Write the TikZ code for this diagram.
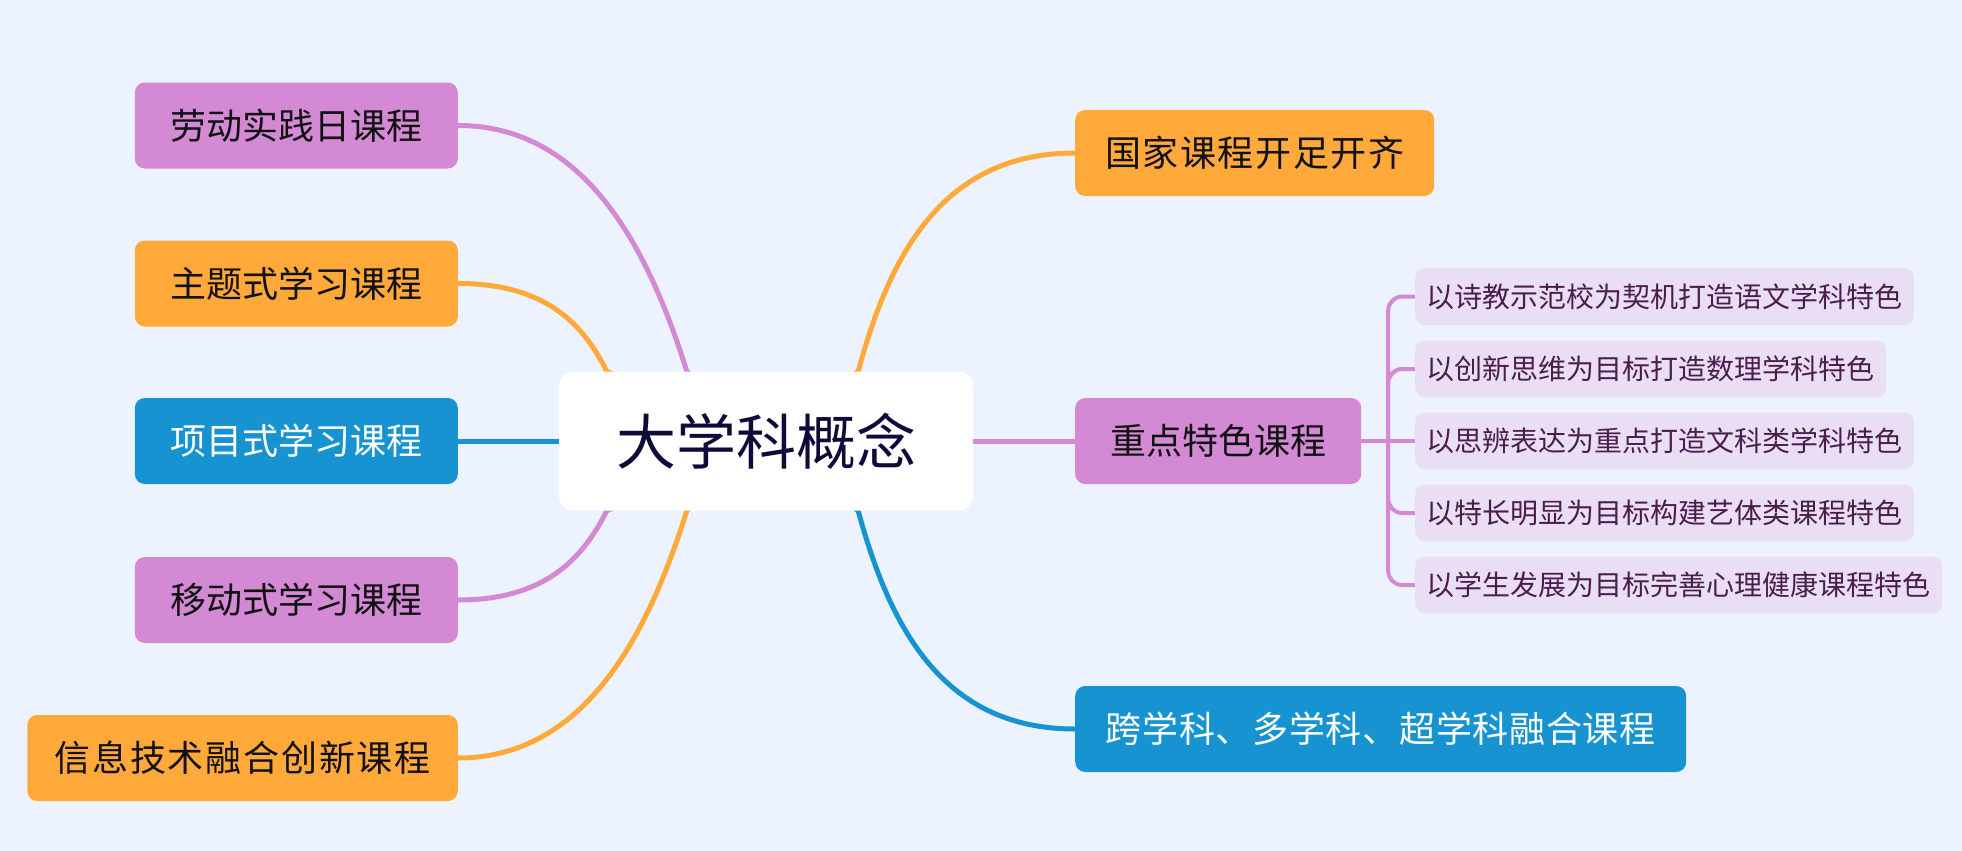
\documentclass[tikz,border=0pt]{standalone}
\usepackage{fontspec}
\setmainfont{Noto Sans CJK SC}
\usetikzlibrary{calc}
\definecolor{bgc}{RGB}{237,243,254}
\definecolor{org}{RGB}{255,169,59}
\definecolor{pur}{RGB}{212,137,213}
\definecolor{blu}{RGB}{23,147,209}
\definecolor{subf}{RGB}{234,222,244}
\definecolor{subt}{RGB}{74,30,76}
\definecolor{roott}{RGB}{14,10,58}
\definecolor{darkt}{RGB}{17,17,17}
\pgfdeclarelayer{bg}
\pgfdeclarelayer{lines}
\pgfsetlayers{bg,lines,main}
\begin{document}
\begin{tikzpicture}[x=1pt,y=-1pt,
  mainbox/.style={rounded corners=10pt, minimum height=86pt, inner xsep=0pt, inner ysep=0pt,
    font=\fontsize{36}{40}\selectfont, text=darkt},
  subbox/.style={rounded corners=10pt, minimum height=57pt, inner xsep=11.5pt, inner ysep=0pt,
    fill=subf, text=subt, font=\fontsize{28}{32}\selectfont, anchor=west},
  rootbox/.style={rounded corners=14pt, fill=white, minimum width=414pt, minimum height=139pt,
    font=\fontsize{60}{66}\selectfont, text=roott},
  branch/.style={line width=5pt, line join=round},
  subline/.style={line width=4pt, draw=pur, rounded corners=14pt}
]
\useasboundingbox (0,0) rectangle (1962,851);
\begin{pgfonlayer}{bg}
  \fill[bgc] (0,0) rectangle (1962,851);
\end{pgfonlayer}

% root
\node[rootbox] (root) at (766,441) {大学科概念};

% left nodes
\node[mainbox, fill=pur, anchor=east, minimum width=323pt] (l1) at (458,125.5) {劳动实践日课程};
\node[mainbox, fill=org, anchor=east, minimum width=323pt] (l2) at (458,283.5) {主题式学习课程};
\node[mainbox, fill=blu, anchor=east, minimum width=323pt, text=white] (l3) at (458,441) {项目式学习课程};
\node[mainbox, fill=pur, anchor=east, minimum width=323pt] (l4) at (458,600) {移动式学习课程};
\node[mainbox, fill=org, anchor=east, minimum width=430.5pt] (l5) at (458,758) {\addfontfeature{LetterSpace=5}信息技术融合创新课程};

% right nodes
\node[mainbox, fill=org, anchor=west, minimum width=359pt] (r1) at (1075,153) {\addfontfeature{LetterSpace=4.5}国家课程开足开齐};
\node[mainbox, fill=pur, anchor=west, minimum width=286pt] (r2) at (1075,441) {重点特色课程};
\node[mainbox, fill=blu, anchor=west, minimum width=611pt, text=white] (r3) at (1075,729) {\addfontfeature{LetterSpace=2}跨学科、多学科、超学科融合课程};

% sub nodes
\node[subbox] (s1) at (1415,296.5) {以诗教示范校为契机打造语文学科特色};
\node[subbox] (s2) at (1415,369) {以创新思维为目标打造数理学科特色};
\node[subbox] (s3) at (1415,441) {以思辨表达为重点打造文科类学科特色};
\node[subbox] (s4) at (1415,513) {以特长明显为目标构建艺体类课程特色};
\node[subbox] (s5) at (1415,585) {以学生发展为目标完善心理健康课程特色};

\begin{pgfonlayer}{lines}
  \draw[branch, pur] (l1.east) .. controls +(125,0) and +(-40,-128) .. ($(root.north west)+(128,0)$) -- (root.center);
  \draw[branch, org] (l2.east) .. controls +(85,0) and +(-25,-50) .. ($(root.north west)+(48,0)$) -- (root.center);
  \draw[branch, blu] (l3.east) -- (root.west);
  \draw[branch, pur] (l4.east) .. controls +(85,0) and +(-25,50) .. ($(root.south west)+(48,0)$) -- (root.center);
  \draw[branch, org] (l5.east) .. controls +(125,0) and +(-40,128) .. ($(root.south west)+(128,0)$) -- (root.center);
  \draw[branch, org] (r1.west) .. controls +(-130,0) and +(32.5,-120.5) .. ($(root.north east)+(-115,0)$) -- (root.center);
  \draw[branch, pur] (root.east) -- (r2.west);
  \draw[branch, blu] (r3.west) .. controls +(-130,0) and +(32.5,120.5) .. ($(root.south east)+(-115,0)$) -- (root.center);

  \coordinate (bx) at ($(r2.east)!0.5!(s3.west)$);
  \draw[subline] (r2.east) -- (s3.west);
  \draw[subline] (s1.west) -| (bx) |- (s5.west);
  \draw[subline] (s2.west) -| (bx);
  \draw[subline] (s4.west) -| (bx);
\end{pgfonlayer}
\end{tikzpicture}
\end{document}
